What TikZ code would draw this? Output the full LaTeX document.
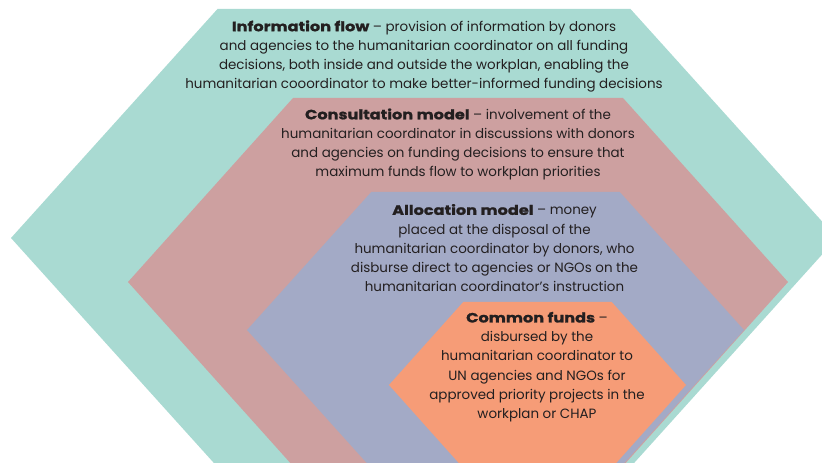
\documentclass[tikz,border=0pt]{standalone}
\usepackage{fontspec}
\setmainfont{Poppins}[BoldFeatures={FakeStretch=1.2,FakeBold=1.3}]
\usepackage{tikz}
\usetikzlibrary{positioning}
\definecolor{infoteal}{RGB}{169,218,210}
\definecolor{consultpink}{RGB}{205,160,160}
\definecolor{allocblue}{RGB}{163,170,198}
\definecolor{commonorange}{RGB}{246,156,119}
\definecolor{inktext}{RGB}{35,31,32}
\tikzset{
  hexband/.style={draw=none},
  hexlabel/.style={align=center, inner sep=0pt, text=inktext,
    font=\fontsize{13.5}{19.3}\selectfont},
}

\begin{document}
\begin{tikzpicture}[x=1bp, y=-1bp]
  \useasboundingbox (0,0) rectangle (822,463);
  \clip (0,0) rectangle (822,463);

  % nested hexagons: centre x / top y / half width / half height / colour
  \foreach \cx/\ty/\hw/\hh/\col in {424/9/413/229/infoteal,
      458/98/330/184/consultpink,
      495.5/192/248.5/138/allocblue,
      537.5/302/148.5/83/commonorange}{
    \fill[hexband, \col] (\cx-\hw/2,\ty) -- (\cx+\hw/2,\ty) -- (\cx+\hw,\ty+\hh)
      -- (\cx+\hw/2,\ty+2*\hh) -- (\cx-\hw/2,\ty+2*\hh) -- (\cx-\hw,\ty+\hh) -- cycle;
  }

  \node[hexlabel] (info) at (424,56.5) {\textbf{Information flow} -- provision of information by donors\\
    and agencies to the humanitarian coordinator on all funding\\
    decisions, both inside and outside the workplan, enabling the\\
    humanitarian cooordinator to make better-informed funding decisions};
  \node[hexlabel] (consult) at (458,144.5) {\textbf{Consultation model} -- involvement of the\\
    humanitarian coordinator in discussions with donors\\
    and agencies on funding decisions to ensure that\\
    maximum funds flow to workplan priorities};
  \node[hexlabel] (alloc) at (494.5,248) {\textbf{Allocation model} -- money\\
    placed at the disposal of the\\
    humanitarian coordinator by donors, who\\
    disburse direct to agencies or NGOs on the\\
    humanitarian coordinator’s instruction};
  \node[hexlabel] (common) at (537,367) {\textbf{Common funds} --\\
    disbursed by the\\
    humanitarian coordinator to\\
    UN agencies and NGOs for\\
    approved priority projects in the\\
    workplan or CHAP};
\end{tikzpicture}
\end{document}
